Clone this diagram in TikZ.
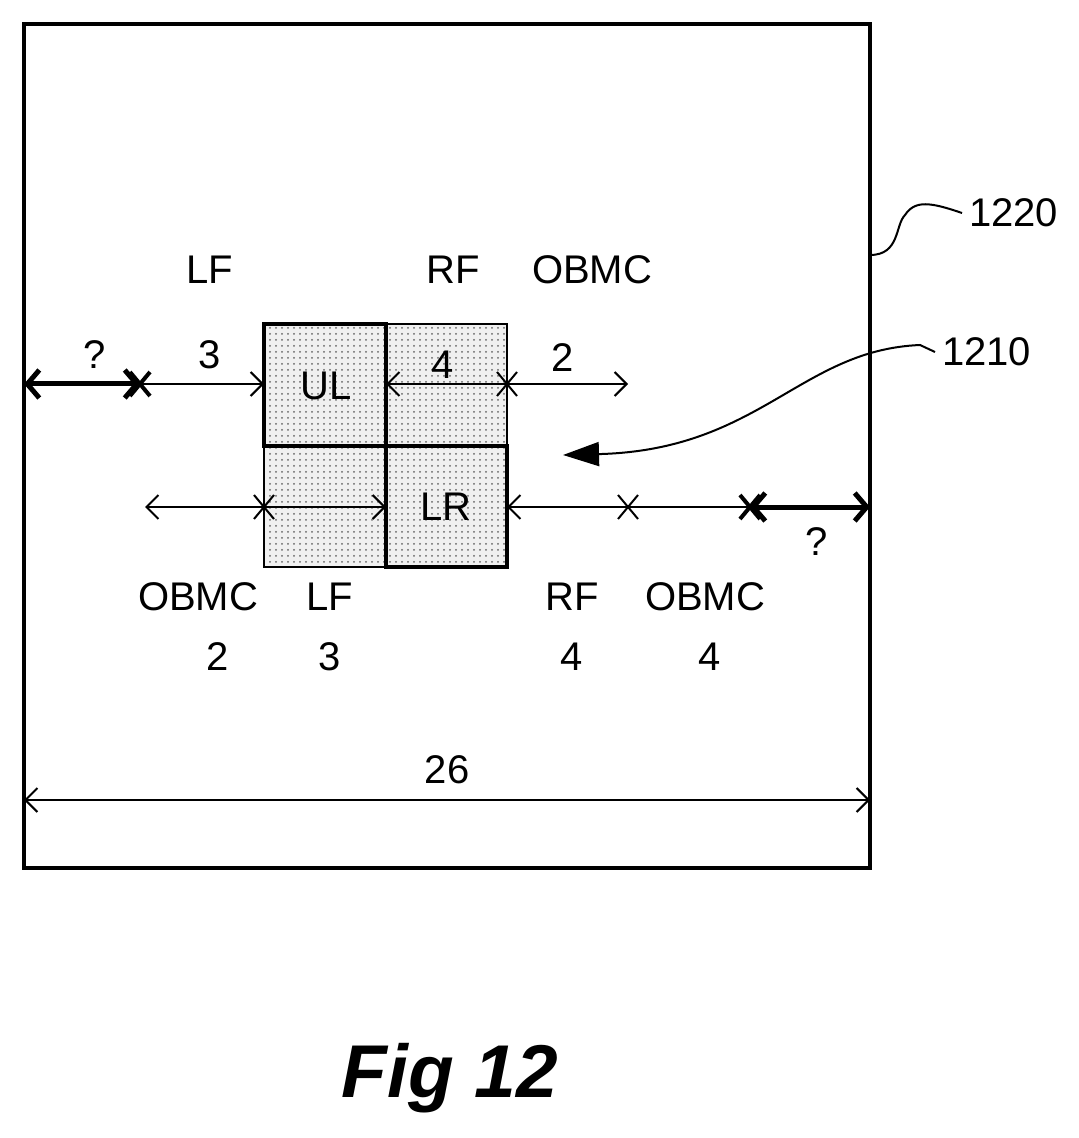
\documentclass[tikz,border=0pt]{standalone}
\usepackage{fontspec}
\setmainfont{Liberation Sans}
\usetikzlibrary{arrows.meta,patterns}
\newcommand\crossmark[2][]{\draw[#1] ($(#2)+(-10,-12)$) -- ($(#2)+(10,12)$) ($(#2)+(-10,12)$) -- ($(#2)+(10,-12)$);}
\usetikzlibrary{calc}
\tikzset{
  lbl/.style={font=\fontsize{20}{24}\selectfont},
  blk/.style={pattern=dots,pattern color=black!60},
  dim/.style={line width=1pt,{Straight Barb[length=6pt,width=12pt]}-{Straight Barb[length=6pt,width=12pt]}},
  one/.style={line width=1pt,-{Straight Barb[length=6pt,width=12pt]}},
  bold/.style={line width=2.5pt,{Straight Barb[length=6pt,width=14pt]}-{Straight Barb[length=6pt,width=14pt]}}
}
\begin{document}
\begin{tikzpicture}[x=0.5pt,y=-0.5pt]
    \useasboundingbox (0,0) rectangle (1078,1138);
    % cadre
    \draw[line width=2pt] (24,24) coordinate(tl) rectangle (870,868) coordinate(br);
    % blocs
    \fill[gray!12] (264,324) rectangle (507,567);
    \fill[blk] (264,324) rectangle (507,567);
    \draw[line width=1pt] (386,324) rectangle (507,446) (264,446) rectangle (386,567);
    \draw[line width=2pt] (264,324) rectangle (386,446) (386,446) rectangle (507,567);
    \node[lbl] (ul) at (326,386) {UL};
    \node[lbl] (lr) at (446,507) {LR};
    % ligne du haut
    \coordinate (a0) at (24,384); \coordinate (a1) at (140,384);
    \coordinate (a2) at (264,384); \coordinate (a3) at (386,384);
    \coordinate (a4) at (507,384); \coordinate (a5) at (628,384);
    \draw[bold] (a0) -- (a1);
    \draw[one] (a1) -- (a2);
    \draw[one] (a4) -- (a3);
    \draw[one] (a4) -- (a5);
    \crossmark[line width=2pt]{a1}
    \crossmark[line width=1pt]{a4}
    \node[lbl] (qa) at (95,355) {?};
    \node[lbl] (na) at (210,355) {3};
    \node[lbl] (nb) at (443,365) {4};
    \node[lbl] (nc) at (563,358) {2};
    % ligne du bas
    \coordinate (b0) at (145,507); \coordinate (b1) at (264,507);
    \coordinate (b2) at (386,507); \coordinate (b3) at (507,507);
    \coordinate (b4) at (628,507); \coordinate (b5) at (750,507);
    \coordinate (b6) at (870,507);
    \draw[one] (b1) -- (b0);
    \draw[one] (b1) -- (b2);
    \draw[one] (b4) -- (b3);
    \draw[line width=1pt] (b4) -- (b5);
    \draw[bold] (b5) -- (b6);
    \crossmark[line width=1pt]{b1}
    \crossmark[line width=1pt]{b4}
    \crossmark[line width=2pt]{b5}
    \node[lbl] (qb) at (817,542) {?};
    % etiquettes
    \node[lbl] at (210,270) {LF};
    \node[lbl] at (453,270) {RF};
    \node[lbl] at (592,270) {OBMC};
    \node[lbl] at (198,597) {OBMC};
    \node[lbl] at (330,597) {LF};
    \node[lbl] at (218,657) {2};
    \node[lbl] at (330,657) {3};
    \node[lbl] at (572,597) {RF};
    \node[lbl] at (705,597) {OBMC};
    \node[lbl] at (572,657) {4};
    \node[lbl] at (710,657) {4};
    % cote 26
    \coordinate (d0) at (24,800); \coordinate (d1) at (870,800);
    \draw[dim] (d0) -- node[lbl,above=4pt]{26} (d1);
    % references
    \node[lbl,anchor=west] (r1220) at (962,213) {1220};
    \draw[line width=1pt] (870,255) .. controls (900,255) and (895,225) .. (905,215) .. controls (915,200) and (930,202) .. (r1220.west);
    \node[lbl,anchor=west] (r1210) at (935,352) {1210};
    \coordinate (tip) at (563,455);
    \draw[line width=1pt,-{Triangle[length=18pt,width=12pt]}] (r1210.west) -- (920,345) .. controls (800,350) and (760,450) .. (tip);
    % titre
    \node[font=\fontsize{34}{40}\selectfont\bfseries\itshape,scale=1.1] (fig) at (450,1078) {Fig 12};
\end{tikzpicture}
\end{document}
